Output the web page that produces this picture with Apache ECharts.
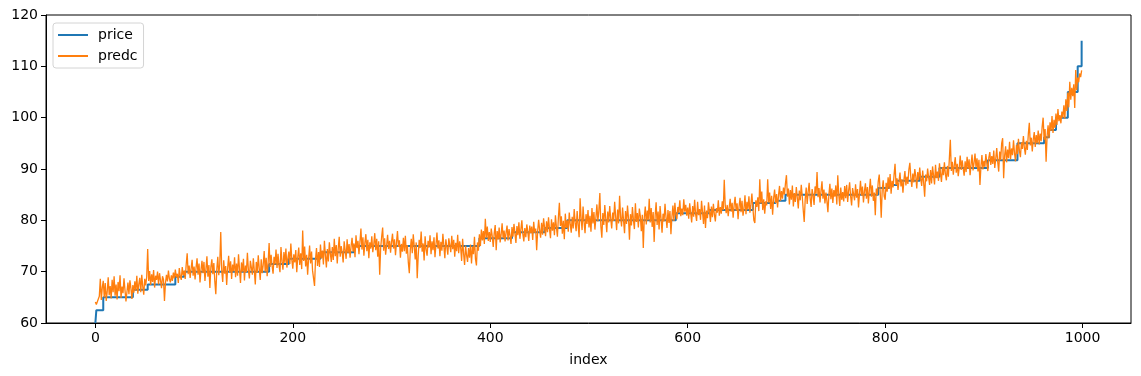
<!DOCTYPE html>
<html>
<head>
<meta charset="utf-8">
<script src="https://cdn.jsdelivr.net/npm/echarts@6/dist/echarts.min.js"></script>
<style>
  html, body { margin: 0; padding: 0; background: #fff; }
  #chart { width: 1141px; height: 376px; }
</style>
</head>
<body>
<div id="chart"></div>
<script>
// price is a step series: index where each level starts, and the level
const priceIdx = [0, 1, 8, 38, 53, 81, 90, 176, 196, 228, 262, 389, 422, 455, 478, 588, 622, 666, 689, 699, 793, 804, 812, 835, 855, 904, 934, 961, 966, 973, 985, 995, 999];
const priceVal = [60, 62.5, 65, 66.5, 67.5, 69, 70, 71.5, 72.5, 73.8, 75, 76.5, 77.7, 78.5, 80, 81.4, 82, 83.4, 83.8, 85, 86.3, 86.9, 87.7, 88.5, 90.2, 91.7, 95, 96.2, 97.6, 100, 105, 110, 115];

// predc, one value per index 0..999 (20 per row)
const predc = [
  64.1, 63.6, 63.4, 63.8, 65.2, 68.6, 64.5, 66.9, 68.2, 65.0, 67.8, 64.3, 66.1, 68.9, 65.4, 67.2, 64.8, 68.4, 66.0, 69.1,
  65.3, 67.5, 64.6, 68.0, 66.2, 69.3, 64.9, 67.1, 65.8, 68.7, 66.4, 64.2, 64.5, 67.9, 65.6, 68.3, 66.8, 64.7, 67.4, 65.9,
  68.1, 66.3, 69.2, 65.7, 67.6, 68.8, 66.0, 69.4, 67.1, 65.5, 68.6, 67.3, 69.0, 74.4, 68.2, 70.1, 67.4, 69.5, 68.0, 70.3,
  66.9, 69.2, 68.4, 70.0, 67.5, 69.7, 68.3, 66.8, 69.1, 68.5, 64.3, 67.8, 69.4, 68.1, 70.2, 68.6, 67.9, 69.3, 68.2, 69.8,
  68.7, 70.4, 68.9, 69.6, 67.8, 70.7, 69.1, 68.4, 70.9, 69.3, 70.2, 68.6, 71.4, 73.6, 69.5, 71.2, 68.8, 70.6, 72.3, 69.2,
  71.0, 68.5, 70.8, 72.6, 69.4, 71.6, 67.9, 70.3, 72.1, 69.7, 71.9, 68.2, 70.5, 73.0, 69.0, 71.3, 66.8, 70.9, 72.4, 69.5,
  71.7, 68.1, 65.6, 70.4, 72.9, 69.3, 71.5, 77.7, 70.2, 68.0, 72.2, 69.6, 71.1, 67.4, 70.7, 73.1, 69.8, 72.0, 68.6, 71.4,
  70.1, 72.8, 68.9, 71.6, 69.2, 73.4, 70.5, 67.8, 71.8, 70.0, 72.5, 68.3, 71.2, 69.9, 73.7, 70.3, 68.7, 72.1, 70.8, 69.4,
  72.6, 70.2, 67.5, 71.9, 69.8, 73.2, 70.6, 68.4, 72.4, 69.7, 71.3, 74.0, 70.0, 72.7, 69.1, 71.8, 75.6, 70.9, 73.3, 71.1,
  69.6, 72.9, 71.4, 74.3, 70.7, 73.5, 71.2, 69.9, 74.8, 72.0, 70.4, 73.8, 71.7, 74.5, 70.8, 72.6, 73.9, 71.5, 75.5, 72.3,
  70.6, 73.4, 71.8, 74.2, 69.9, 72.8, 74.7, 71.3, 73.6, 70.5, 78.0, 72.1, 74.9, 71.0, 73.3, 69.4, 72.5, 75.1, 71.6, 73.9,
  70.2, 68.7, 67.2, 72.4, 74.6, 71.1, 73.8, 70.9, 75.3, 72.6, 74.1, 71.4, 76.0, 73.2, 70.8, 74.4, 72.0, 75.7, 73.5, 71.9,
  74.8, 72.3, 76.4, 73.0, 75.2, 71.6, 74.5, 76.8, 72.9, 75.0, 73.7, 71.8, 75.9, 74.2, 72.5, 76.3, 73.6, 75.4, 72.7, 74.9,
  76.6, 73.9, 75.5, 72.8, 77.1, 74.6, 76.0, 73.4, 75.8, 78.4, 74.3, 76.7, 73.1, 75.6, 77.3, 74.0, 76.2, 72.6, 75.7, 74.5,
  76.9, 73.8, 75.3, 77.5, 74.2, 76.4, 72.9, 75.9, 69.4, 74.7, 76.8, 78.6, 74.1, 76.5, 73.3, 75.1, 77.2, 74.4, 76.0, 73.7,
  75.8, 77.4, 74.5, 76.3, 73.2, 75.6, 77.9, 74.8, 76.1, 72.7, 75.4, 73.9, 76.6, 74.0, 77.0, 73.5, 75.2, 71.8, 69.7, 74.3,
  76.4, 73.6, 77.3, 74.9, 72.4, 75.7, 68.7, 73.0, 76.2, 74.6, 77.8, 73.9, 75.5, 72.2, 76.9, 74.3, 73.1, 76.0, 74.7, 77.1,
  73.4, 75.9, 74.2, 76.7, 72.8, 75.3, 77.6, 74.5, 76.1, 73.0, 75.8, 74.1, 77.4, 75.0, 72.6, 76.3, 74.8, 73.3, 76.5, 75.2,
  73.8, 77.0, 74.4, 76.2, 72.9, 75.6, 74.0, 77.2, 73.6, 75.9, 74.7, 72.1, 76.4, 73.5, 71.3, 75.1, 73.2, 71.9, 74.6, 72.7,
  75.3, 71.6, 74.9, 73.4, 76.8, 72.5, 71.2, 75.7, 74.1, 77.3, 75.0, 78.2, 76.1, 77.9, 75.4, 80.3, 76.6, 78.8, 76.0, 77.7,
  75.8, 78.4, 76.9, 74.8, 77.5, 79.1, 74.2, 77.9, 76.3, 78.6, 75.7, 77.2, 79.4, 76.5, 78.0, 75.9, 77.6, 79.0, 76.1, 78.3,
  77.0, 75.4, 78.7, 76.8, 79.3, 77.4, 75.6, 78.9, 77.1, 79.6, 76.4, 78.2, 80.0, 77.3, 75.9, 78.5, 76.7, 79.2, 77.8, 76.0,
  79.0, 77.5, 78.8, 76.2, 79.7, 77.6, 78.4, 74.2, 77.9, 80.1, 78.1, 76.6, 79.5, 77.2, 80.4, 78.6, 76.9, 79.8, 77.7, 80.6,
  78.3, 76.5, 80.2, 78.0, 79.6, 77.1, 81.0, 78.7, 76.8, 80.5, 83.4, 78.9, 80.8, 77.4, 79.9, 76.3, 81.3, 78.5, 80.0, 77.8,
  81.5, 79.2, 77.6, 80.7, 78.4, 82.2, 79.5, 77.9, 81.8, 79.0, 76.7, 84.3, 80.4, 78.1, 82.7, 79.7, 77.5, 81.2, 79.3, 82.0,
  78.6, 80.9, 77.8, 82.4, 79.4, 81.6, 78.2, 80.5, 83.1, 79.8, 81.9, 85.3, 78.9, 76.6, 81.4, 79.1, 83.0, 80.2, 77.7, 81.7,
  79.6, 82.8, 80.3, 78.4, 81.5, 79.9, 83.6, 80.7, 78.1, 82.1, 79.4, 84.8, 80.6, 78.8, 82.5, 80.0, 77.5, 81.8, 79.3, 82.9,
  80.4, 76.2, 81.2, 79.0, 82.6, 80.1, 78.3, 83.3, 79.7, 81.4, 78.6, 82.3, 80.8, 77.9, 81.1, 74.6, 80.5, 82.7, 79.2, 81.9,
  80.0, 84.2, 79.6, 82.4, 78.7, 81.6, 75.8, 80.9, 83.5, 79.1, 81.7, 78.2, 82.8, 80.3, 77.6, 81.3, 79.8, 83.2, 80.6, 78.5,
  82.0, 79.5, 81.8, 77.3, 80.7, 82.9, 79.9, 83.4, 81.1, 80.2, 82.6, 81.5, 83.9, 80.8, 82.3, 81.0, 84.1, 81.7, 83.0, 80.9,
  82.5, 80.3, 83.3, 81.4, 79.6, 82.8, 80.7, 84.0, 81.2, 79.9, 83.6, 81.0, 82.2, 80.1, 83.8, 81.6, 79.3, 82.9, 78.5, 81.9,
  80.4, 83.5, 81.8, 79.7, 82.7, 80.6, 83.2, 81.1, 79.8, 82.4, 81.5, 83.9, 80.9, 82.6, 81.3, 83.7, 82.0, 87.9, 82.8, 81.4,
  83.0, 80.8, 82.5, 84.2, 81.7, 83.4, 80.5, 82.9, 84.6, 81.9, 83.3, 80.2, 82.7, 84.4, 81.6, 83.8, 80.9, 82.3, 84.9, 81.2,
  83.6, 82.1, 84.7, 81.5, 83.1, 85.2, 82.4, 80.0, 79.5, 83.9, 82.6, 84.5, 81.8, 88.0, 83.3, 85.6, 82.0, 84.1, 81.3, 83.7,
  82.9, 88.0, 83.5, 85.4, 82.2, 84.8, 81.1, 84.3, 86.0, 83.4, 85.1, 82.5, 84.9, 86.7, 83.8, 85.7, 84.2, 86.4, 85.0, 87.2,
  88.8, 84.6, 86.2, 83.1, 85.9, 84.0, 86.8, 82.7, 85.3, 83.6, 86.5, 84.4, 82.3, 85.8, 83.9, 86.9, 84.7, 82.0, 79.7, 84.1,
  86.4, 83.2, 85.6, 87.3, 84.3, 82.6, 86.1, 84.8, 83.0, 86.6, 85.2, 89.4, 84.5, 86.3, 83.5, 85.7, 87.6, 84.2, 86.0, 83.3,
  85.4, 83.8, 81.6, 85.0, 87.1, 84.1, 86.2, 83.4, 85.9, 84.6, 86.8, 83.1, 88.8, 84.9, 82.8, 86.4, 84.0, 85.5, 83.7, 86.7,
  84.3, 86.9, 83.6, 85.8, 87.4, 84.7, 82.9, 86.3, 85.1, 83.9, 87.0, 84.4, 86.1, 82.5, 85.2, 87.7, 84.8, 86.6, 83.5, 85.7,
  87.2, 84.2, 86.5, 83.3, 85.9, 88.1, 84.6, 86.8, 83.8, 85.4, 81.0, 86.2, 84.9, 87.6, 88.9, 85.3, 80.5, 86.0, 87.8, 84.7,
  84.0, 87.3, 85.6, 88.4, 86.1, 89.0, 85.2, 87.7, 86.4, 88.8, 91.0, 86.9, 88.2, 85.9, 87.5, 89.3, 86.6, 88.0, 85.4, 87.9,
  89.6, 86.8, 88.5, 87.1, 89.9, 91.2, 88.3, 86.5, 89.1, 87.4, 90.0, 88.6, 86.2, 89.4, 87.8, 90.3, 88.1, 86.7, 89.7, 87.3,
  84.6, 88.9, 87.6, 90.1, 88.4, 86.9, 89.8, 87.2, 90.5, 88.7, 87.0, 90.8, 88.2, 89.5, 87.7, 91.1, 89.2, 87.5, 90.4, 88.8,
  91.3, 89.0, 87.8, 90.6, 88.5, 92.0, 95.7, 89.6, 91.4, 88.9, 90.7, 92.3, 89.3, 91.0, 88.6, 90.2, 92.6, 89.8, 91.7, 90.1,
  88.7, 91.5, 89.4, 92.4, 90.0, 91.9, 88.8, 90.9, 92.8, 89.7, 91.2, 93.0, 90.3, 92.1, 89.5, 91.8, 86.9, 90.5, 92.7, 89.9,
  91.6, 90.4, 92.9, 91.1, 89.6, 92.2, 93.3, 90.8, 92.5, 91.0, 93.6, 90.2, 92.0, 94.1, 91.4, 89.5, 93.4, 91.7, 95.0, 96.0,
  88.2, 92.6, 94.4, 91.3, 93.8, 92.1, 95.3, 91.9, 94.0, 92.7, 95.6, 93.1, 91.5, 94.7, 92.9, 95.9, 93.5, 92.3, 95.2, 93.9,
  96.4, 94.1, 92.8, 95.5, 93.7, 96.8, 99.0, 94.6, 96.1, 93.4, 95.8, 97.2, 94.3, 96.6, 95.0, 97.5, 94.8, 96.9, 95.4, 98.2,
  100.0, 95.7, 97.8, 91.4, 96.3, 98.5, 96.0, 99.1, 97.4, 100.3, 97.0, 99.6, 98.0, 100.8, 98.6, 101.7, 99.3, 100.5, 98.9, 101.2,
  100.0, 102.4, 99.8, 103.6, 101.3, 104.9, 102.0, 107.0, 103.5, 105.8, 104.2, 106.5, 101.9, 109.3, 105.4, 107.8, 106.9, 108.6, 107.9, 109.2
];

const xTicks = [0, 200, 400, 600, 800, 1000];

const font = "DejaVu Sans";

const chart = echarts.init(document.getElementById("chart"), null, { renderer: "canvas" });

chart.setOption({
    animation: false,
    backgroundColor: "#fff",
    textStyle: { fontFamily: font },
    grid: {
        left: 46,
        right: 10,
        top: 15,
        bottom: 53,
        show: true,
        borderColor: "#000",
        borderWidth: 1,
    },
    legend: {
        data: ["price", "predc"],
        orient: "vertical",
        left: 53,
        top: 23,
        icon: "rect",
        itemWidth: 30,
        itemHeight: 2,
        itemGap: 5,
        padding: [4, 6, 4, 5],
        backgroundColor: "rgba(255,255,255,0.8)",
        borderColor: "#d4d4d4",
        borderWidth: 1,
        borderRadius: 3,
        textStyle: { fontFamily: font, fontSize: 14, lineHeight: 16, color: "#000", padding: [0, 0, 0, 5] },
    },
    xAxis: {
        type: "value",
        min: -50,
        max: 1049,
        name: "index",
        nameLocation: "middle",
        nameGap: 30,
        nameTextStyle: { fontFamily: font, fontSize: 14, color: "#000" },
        splitLine: { show: false },
        axisLine: { onZero: false, lineStyle: { color: "#000", width: 1 } },
        axisTick: { length: 5, lineStyle: { color: "#000" }, customValues: xTicks },
        axisLabel: {
            customValues: xTicks,
            margin: 8,
            fontSize: 14,
            color: "#000",
            fontFamily: font,
            formatter: (v) => String(v),
        },
    },
    yAxis: {
        type: "value",
        min: 60,
        max: 120,
        interval: 10,
        splitLine: { show: false },
        axisLine: { show: true, onZero: false, lineStyle: { color: "#000", width: 1 } },
        axisTick: { show: true, length: 5, lineStyle: { color: "#000" } },
        axisLabel: { margin: 8, fontSize: 14, color: "#000", fontFamily: font },
    },
    series: [
        {
            name: "price",
            type: "line",
            step: "end",
            showSymbol: false,
            symbol: "none",
            color: "#1f77b4",
            lineStyle: { width: 2 },
            data: priceIdx.map((x, i) => [x, priceVal[i]]),
        },
        {
            name: "predc",
            type: "line",
            showSymbol: false,
            symbol: "none",
            color: "#ff7f0e",
            lineStyle: { width: 1.3 },
            data: predc.map((v, i) => [i, v]),
        },
    ],
});
</script>
</body>
</html>
